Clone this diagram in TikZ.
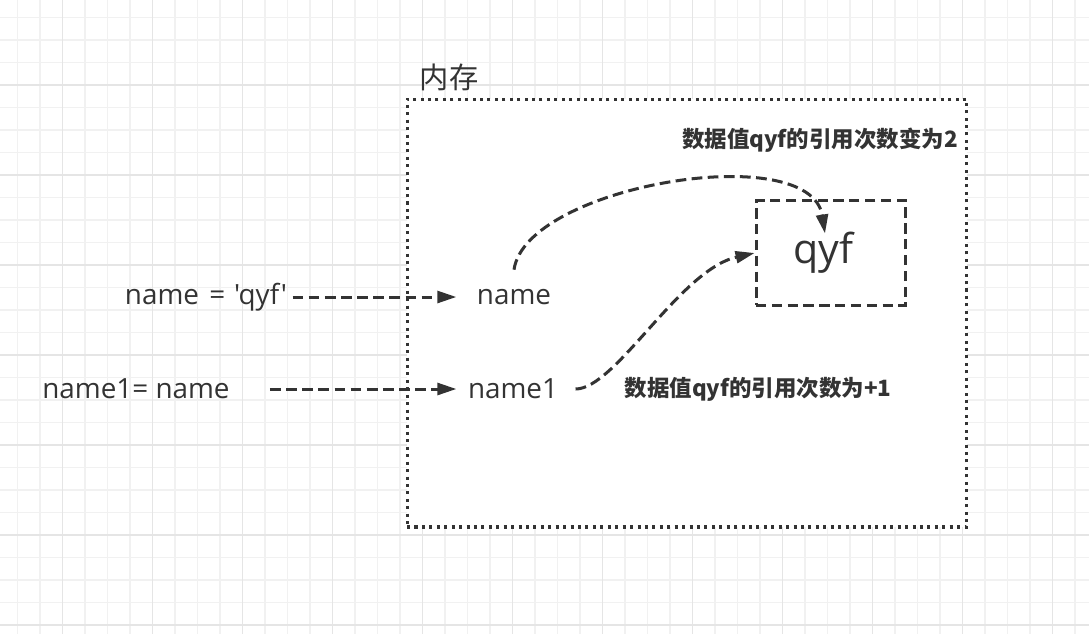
\documentclass[tikz,border=0pt]{standalone}
\usepackage{fontspec}
\setmainfont{Open Sans}[Ligatures=TeXOff]
\newfontfamily\cjk{Noto Sans CJK SC}
\usetikzlibrary{arrows.meta}

\definecolor{ink}{HTML}{333333}
\definecolor{gridminor}{HTML}{F1F1F1}
\definecolor{gridmajor}{HTML}{E5E5E5}

\tikzset{
    txt/.style={text=ink, font=\fontsize{17.6}{20}\selectfont},
    note/.style={text=ink, font=\cjk\bfseries\fontsize{14.2}{16}\selectfont},
    memlbl/.style={text=ink, font=\cjk\fontsize{18.5}{21}\selectfont},
    membox/.style={draw=ink, fill=white, line width=1.9pt,
        dash pattern=on 1.9pt off 2.8pt, inner sep=0pt,
        minimum width=354pt, minimum height=270.6pt},
    valbox/.style={draw=ink, line width=1.9pt, dash pattern=on 6.5pt off 3.5pt,
        minimum width=94.8pt, minimum height=65.8pt,
        text=ink, font=\fontsize{26}{28}\selectfont},
    ref/.style={draw=ink, line width=1.9pt, dash pattern=on 6.8pt off 3.4pt,
        -{Triangle[length=12pt,width=7.5pt]}},
}

\begin{document}
\begin{tikzpicture}[x=0.63228pt, y=-0.63228pt]

    % Page and background grid
    \useasboundingbox (0,0) rectangle (1089,634);
    \fill[white] (0,0) rectangle (1089,634);
    \foreach \x in {17.5,40,...,1089} {
        \draw[gridminor, line width=0.65pt] (\x,0) -- (\x,634);
    }
    \foreach \y in {17.5,40,...,634} {
        \draw[gridminor, line width=0.65pt] (0,\y) -- (1089,\y);
    }
    \foreach \x in {62.5,152.5,...,1089} {
        \draw[gridmajor, line width=0.65pt] (\x,0) -- (\x,634);
    }
    \foreach \y in {85,175,...,634} {
        \draw[gridmajor, line width=0.65pt] (0,\y) -- (1089,\y);
    }

    % Memory area
    \node[membox] (mem) at (687,313) {};
    \node[memlbl] (memlabel) at (449,77) {内存};

    % Value object and the two names
    \node[valbox] (val) at (831,253) {\hspace*{-10pt}qyf};
    \node[txt] (var1) at (514,297) {name};
    \node[txt] (var2) at (513,389) {name1};

    % Statements on the left
    \node[txt] (stmt1) at (206,297) {name\hspace{2pt} = \hspace{1pt}'qyf'};
    \node[txt] (stmt2) at (136,389) {name1= name};

    % Assignments
    \draw[ref, shorten >=9.5pt] (stmt1) -- (var1);
    \draw[ref, shorten <=22pt, shorten >=3.8pt] (stmt2) -- (var2);

    % References to the value
    \draw[ref] ([shift={(0,-14)}]var1.north)
        .. controls +(12,-84) and +(-15,-95) .. ([shift={(-6,34)}]val.north);
    \draw[ref] ([shift={(12,0)}]var2.east)
        .. controls +(40,0) and +(-75,17) .. (val.west);

    % Reference count notes
    \node[note] (note1) at (820,140) {数据值qyf的引用次数变为2};
    \node[note] (note2) at (758,389) {数据值qyf的引用次数为+1};

\end{tikzpicture}
\end{document}
